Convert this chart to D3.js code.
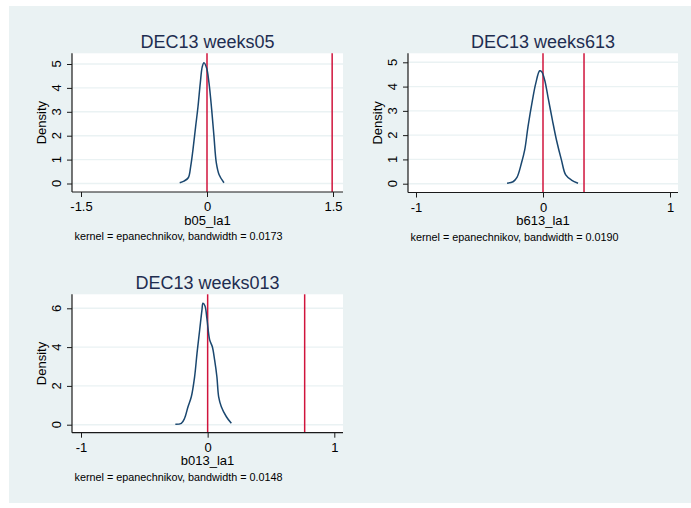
<!DOCTYPE html>
<html>
<head>
<meta charset="utf-8">
<script src="https://cdn.jsdelivr.net/npm/d3@7"></script>
<style>
  html, body { margin: 0; padding: 0; background: #ffffff; }
  svg { display: block; }
  text { font-family: Arial, "Liberation Sans", Helvetica, sans-serif; }
</style>
</head>
<body>
<svg id="chart" width="691" height="508"></svg>
<script>
// ---------------- DATA ----------------
const titles = ["DEC13 weeks05", "DEC13 weeks613", "DEC13 weeks013"];
const xVars = ["b05_la1", "b613_la1", "b013_la1"];
const bandwidths = ["0.0173", "0.0190", "0.0148"];

const xTicks1 = [-1.5, 0, 1.5];
const xTickLabels1 = ["-1.5", "0", "1.5"];
const yTicks1 = [0, 1, 2, 3, 4, 5];
const xTicks2 = [-1, 0, 1];
const xTickLabels2 = ["-1", "0", "1"];
const yTicks2 = [0, 1, 2, 3, 4, 5];
const xTicks3 = [-1, 0, 1];
const xTickLabels3 = ["-1", "0", "1"];
const yTicks3 = [0, 2, 4, 6];

const xlines1 = [0, 1.49];
const xlines2 = [0, 0.323];
const xlines3 = [0, 0.766];

const kx1 = [-0.325, -0.274, -0.223, -0.194, -0.167, -0.135, -0.107, -0.080, -0.056, -0.036, -0.004, 0.024, 0.056, 0.083, 0.111, 0.143, 0.202];
const ky1 = [0.03, 0.10, 0.24, 0.72, 1.42, 2.39, 3.22, 4.20, 4.89, 5.05, 4.82, 4.20, 3.08, 1.97, 0.86, 0.38, 0.03];

const kx2 = [-0.283, -0.236, -0.205, -0.170, -0.144, -0.118, -0.083, -0.057, -0.026, -0.010, 0.013, 0.039, 0.074, 0.106, 0.145, 0.179, 0.224, 0.276];
const ky2 = [0.02, 0.08, 0.26, 0.84, 1.39, 2.35, 3.44, 4.13, 4.65, 4.61, 4.27, 3.58, 2.62, 1.80, 0.98, 0.36, 0.15, 0.02];

const kx3 = [-0.255, -0.208, -0.182, -0.155, -0.129, -0.103, -0.084, -0.063, -0.045, -0.037, -0.021, -0.006, 0.016, 0.037, 0.055, 0.073, 0.087, 0.108, 0.148, 0.187];
const ky3 = [0.02, 0.07, 0.33, 0.93, 1.44, 2.47, 3.68, 4.88, 5.91, 6.26, 6.12, 5.48, 4.37, 4.02, 3.34, 2.47, 1.44, 0.93, 0.41, 0.07];

// ---------------- LAYOUT ----------------
const layouts = [
  { left: 72, right: 343, top: 53.3, bottom: 192, xr: [81, 333], yr: [183.5, 64] },
  { left: 408, right: 678, top: 53.3, bottom: 192.5, xr: [416, 670], yr: [183.7, 62.3] },
  { left: 72, right: 343, top: 294.3, bottom: 432.7, xr: [81, 334.3], yr: [424.7, 308.3] }
];

const panels = [
  { xt: xTicks1, xl: xTickLabels1, yt: yTicks1, lines: xlines1, kx: kx1, ky: ky1 },
  { xt: xTicks2, xl: xTickLabels2, yt: yTicks2, lines: xlines2, kx: kx2, ky: ky2 },
  { xt: xTicks3, xl: xTickLabels3, yt: yTicks3, lines: xlines3, kx: kx3, ky: ky3 }
].map((p, i) => Object.assign(p, {
  title: titles[i], xvar: xVars[i], bw: bandwidths[i], L: layouts[i]
}));

const COLORS = {
  bg: "#eaf2f3",
  grid: "#eaf2f3",
  axis: "#1a1a1a",
  title: "#1e2d50",
  curve: "#1a476f",
  xline: "#d0143c"
};

const svg = d3.select("#chart");

svg.append("rect")
  .attr("x", 9).attr("y", 6)
  .attr("width", 682).attr("height", 497)
  .attr("fill", COLORS.bg);

panels.forEach(p => {
  const L = p.L;
  const x = d3.scaleLinear().domain([p.xt[0], p.xt[p.xt.length - 1]]).range(L.xr);
  const y = d3.scaleLinear().domain([p.yt[0], p.yt[p.yt.length - 1]]).range(L.yr);
  const g = svg.append("g");

  // plot region
  g.append("rect")
    .attr("x", L.left).attr("y", L.top)
    .attr("width", L.right - L.left).attr("height", L.bottom - L.top)
    .attr("fill", "#ffffff");

  // gridlines
  g.selectAll(".grid").data(p.yt).enter().append("line")
    .attr("x1", L.left).attr("x2", L.right)
    .attr("y1", d => y(d)).attr("y2", d => y(d))
    .attr("stroke", COLORS.grid).attr("stroke-width", 1.4);

  // vertical reference lines
  g.selectAll(".xl").data(p.lines).enter().append("line")
    .attr("x1", d => x(d)).attr("x2", d => x(d))
    .attr("y1", L.top).attr("y2", L.bottom)
    .attr("stroke", COLORS.xline).attr("stroke-width", 1.5);

  // density curve
  const pts = p.kx.map((v, i) => [v, p.ky[i]]);
  g.append("path")
    .datum(pts)
    .attr("fill", "none")
    .attr("stroke", COLORS.curve)
    .attr("stroke-width", 1.5)
    .attr("stroke-linejoin", "round")
    .attr("d", d3.line().x(d => x(d[0])).y(d => y(d[1])).curve(d3.curveCatmullRom.alpha(0.5)));

  // y axis
  const yAxis = d3.axisLeft(y).tickValues(p.yt).tickSize(5).tickFormat(d3.format("d"));
  const ya = g.append("g").attr("transform", `translate(${L.left},0)`).call(yAxis);
  ya.select(".domain").remove();
  ya.selectAll(".tick line").attr("stroke", COLORS.axis).attr("stroke-width", 1);
  ya.selectAll(".tick text").remove();
  g.append("line")
    .attr("x1", L.left).attr("x2", L.left)
    .attr("y1", L.top).attr("y2", L.bottom)
    .attr("stroke", COLORS.axis).attr("stroke-width", 1.2);
  g.selectAll(".ylab").data(p.yt).enter().append("text")
    .attr("transform", d => `translate(${L.left - 11},${y(d)}) rotate(-90)`)
    .attr("text-anchor", "middle")
    .attr("font-size", 13)
    .attr("fill", "#000")
    .text(d => String(d));
  g.append("text")
    .attr("transform", `translate(${L.left - 26},${(L.top + L.bottom) / 2}) rotate(-90)`)
    .attr("text-anchor", "middle")
    .attr("font-size", 13)
    .attr("fill", "#000")
    .text("Density");

  // x axis
  const xAxis = d3.axisBottom(x).tickValues(p.xt).tickSize(5).tickFormat((d, i) => p.xl[i]);
  const xa = g.append("g").attr("transform", `translate(0,${L.bottom})`).call(xAxis);
  xa.select(".domain").remove();
  xa.selectAll(".tick line").attr("stroke", COLORS.axis).attr("stroke-width", 1);
  xa.selectAll(".tick text")
    .attr("y", 19).attr("dy", 0)
    .attr("font-size", 13)
    .attr("fill", "#000")
    .attr("font-family", "Arial, 'Liberation Sans', Helvetica, sans-serif");
  g.append("line")
    .attr("x1", L.left).attr("x2", L.right)
    .attr("y1", L.bottom).attr("y2", L.bottom)
    .attr("stroke", COLORS.axis).attr("stroke-width", 1.2);

  // x axis title
  g.append("text")
    .attr("x", (L.left + L.right) / 2).attr("y", L.bottom + 32.5)
    .attr("text-anchor", "middle")
    .attr("font-size", 13)
    .attr("fill", "#000")
    .text(p.xvar);

  // note
  g.append("text")
    .attr("x", L.left + 2.5).attr("y", L.bottom + 48)
    .attr("font-size", 10.8)
    .attr("fill", "#000")
    .text(`kernel = epanechnikov, bandwidth = ${p.bw}`);

  // title
  g.append("text")
    .attr("x", (L.left + L.right) / 2).attr("y", L.top - 5.3)
    .attr("text-anchor", "middle")
    .attr("font-size", 18)
    .attr("fill", COLORS.title)
    .text(p.title);
});
</script>
</body>
</html>
